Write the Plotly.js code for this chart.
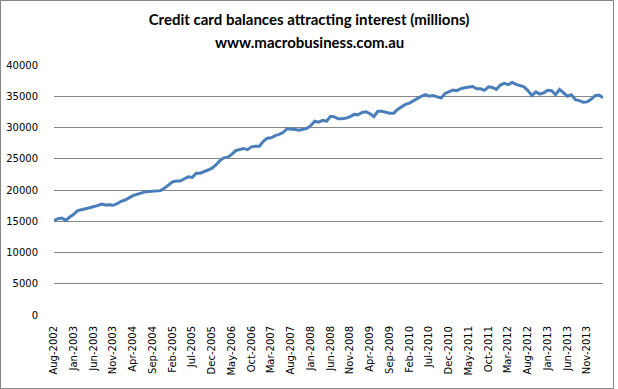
<!DOCTYPE html>
<html>
<head>
<meta charset="utf-8">
<script src="https://cdn.plot.ly/plotly-3.0.1.min.js"></script>
<style>
  html, body { margin: 0; padding: 0; background: #fff; }
  #chart { width: 618px; height: 389px; }
</style>
</head>
<body>
<div id="chart"></div>
<script>
// Category labels (monthly, Aug-2002 to Mar-2014)
const months = [
  "Aug-2002","Sep-2002","Oct-2002","Nov-2002","Dec-2002",
  "Jan-2003","Feb-2003","Mar-2003","Apr-2003","May-2003","Jun-2003","Jul-2003","Aug-2003","Sep-2003","Oct-2003","Nov-2003","Dec-2003",
  "Jan-2004","Feb-2004","Mar-2004","Apr-2004","May-2004","Jun-2004","Jul-2004","Aug-2004","Sep-2004","Oct-2004","Nov-2004","Dec-2004",
  "Jan-2005","Feb-2005","Mar-2005","Apr-2005","May-2005","Jun-2005","Jul-2005","Aug-2005","Sep-2005","Oct-2005","Nov-2005","Dec-2005",
  "Jan-2006","Feb-2006","Mar-2006","Apr-2006","May-2006","Jun-2006","Jul-2006","Aug-2006","Sep-2006","Oct-2006","Nov-2006","Dec-2006",
  "Jan-2007","Feb-2007","Mar-2007","Apr-2007","May-2007","Jun-2007","Jul-2007","Aug-2007","Sep-2007","Oct-2007","Nov-2007","Dec-2007",
  "Jan-2008","Feb-2008","Mar-2008","Apr-2008","May-2008","Jun-2008","Jul-2008","Aug-2008","Sep-2008","Oct-2008","Nov-2008","Dec-2008",
  "Jan-2009","Feb-2009","Mar-2009","Apr-2009","May-2009","Jun-2009","Jul-2009","Aug-2009","Sep-2009","Oct-2009","Nov-2009","Dec-2009",
  "Jan-2010","Feb-2010","Mar-2010","Apr-2010","May-2010","Jun-2010","Jul-2010","Aug-2010","Sep-2010","Oct-2010","Nov-2010","Dec-2010",
  "Jan-2011","Feb-2011","Mar-2011","Apr-2011","May-2011","Jun-2011","Jul-2011","Aug-2011","Sep-2011","Oct-2011","Nov-2011","Dec-2011",
  "Jan-2012","Feb-2012","Mar-2012","Apr-2012","May-2012","Jun-2012","Jul-2012","Aug-2012","Sep-2012","Oct-2012","Nov-2012","Dec-2012",
  "Jan-2013","Feb-2013","Mar-2013","Apr-2013","May-2013","Jun-2013","Jul-2013","Aug-2013","Sep-2013","Oct-2013","Nov-2013","Dec-2013",
  "Jan-2014","Feb-2014","Mar-2014"
];

// Credit card balances attracting interest (millions)
const balances = [
  15100,15400,15500,15150,15700,16100,16700,16900,17000,17150,17300,17500,17750,17600,17650,17550,17800,18200,18400,18800,19100,19300,19500,19700,19750,19800,
  19750,19900,20300,20800,21300,21450,21450,21800,22100,22000,22700,22700,22900,23200,23500,24000,24700,25150,25250,25700,26300,
  26500,26650,26450,26900,27000,27000,27800,28300,28350,28700,28900,29200,29800,29800,29700,29550,29650,29850,30300,31000,30850,31150,
  31000,31800,31700,31400,31400,31500,31750,32100,32050,32400,32500,32200,31750,32600,32600,32400,32300,32300,32900,33300,33700,33900,34300,
  34700,35000,35250,35000,35100,34950,34700,35450,35700,36000,35900,36200,36350,36500,36550,36200,36200,35950,36500,36400,36100,36800,37050,36850,
  37200,36900,36700,36500,35900,35100,35700,35350,35550,35950,35900,35250,36100,35500,35000,35250,34450,34300,34050,34100,34500,35100,35200,34750
];

const titleLine1 = "Credit card balances attracting interest (millions)";
const titleLine2 = "www.macrobusiness.com.au";

const W = 618, H = 389;
const L = 54, R = 15, T = 65, B = 74;
const pw = W - L - R, ph = H - T - B;

const trace = {
  type: "scatter",
  mode: "lines",
  x: months,
  y: balances,
  line: { color: "#4A7EBB", width: 3 },
  hoverinfo: "x+y"
};

const tickFont = { family: "DejaVu Sans, Verdana, sans-serif", size: 10, color: "#000" };
const titleFont = { family: "Lato, 'Open Sans', sans-serif", size: 15, color: "#000" };

const layout = {
  width: W, height: H,
  margin: { l: L, r: R, t: T, b: B, pad: 0 },
  paper_bgcolor: "#fff",
  plot_bgcolor: "#fff",
  showlegend: false,
  title: {
    text: "<b>" + titleLine1 + "</b>",
    font: titleFont,
    xref: "container", x: 0.5, xanchor: "center",
    yref: "container", y: 1 - 20 / H, yanchor: "middle"
  },
  annotations: [{
    text: "<b>" + titleLine2 + "</b>",
    xref: "paper", yref: "paper",
    x: (309 - L) / pw, y: (H - B - 42) / ph,
    xanchor: "center", yanchor: "middle",
    showarrow: false,
    font: titleFont
  }],
  xaxis: {
    type: "category",
    range: [0, months.length - 1],
    tickmode: "linear", tick0: 0, dtick: 5,
    tickangle: -90,
    ticks: "",
    showgrid: false, zeroline: false, showline: false,
    tickfont: tickFont,
    ticklabelstandoff: 8,
    automargin: false,
    fixedrange: true
  },
  yaxis: {
    range: [0, 40000],
    tickmode: "linear", tick0: 0, dtick: 5000,
    tickformat: "d",
    ticks: "",
    showgrid: true, gridcolor: "#868686", gridwidth: 1,
    zeroline: false, showline: false,
    tickfont: tickFont,
    ticklabelstandoff: 15,
    automargin: false,
    fixedrange: true
  },
  shapes: [{
    type: "rect", xref: "paper", yref: "paper",
    x0: (0.5 - L) / pw, x1: (613.5 - L) / pw,
    y0: (H - B - 388.5) / ph, y1: (H - B - 0.5) / ph,
    line: { color: "#868686", width: 1 },
    fillcolor: "rgba(0,0,0,0)",
    layer: "below"
  }]
};

Plotly.newPlot("chart", [trace], layout, { displayModeBar: false, staticPlot: true });
</script>
</body>
</html>
